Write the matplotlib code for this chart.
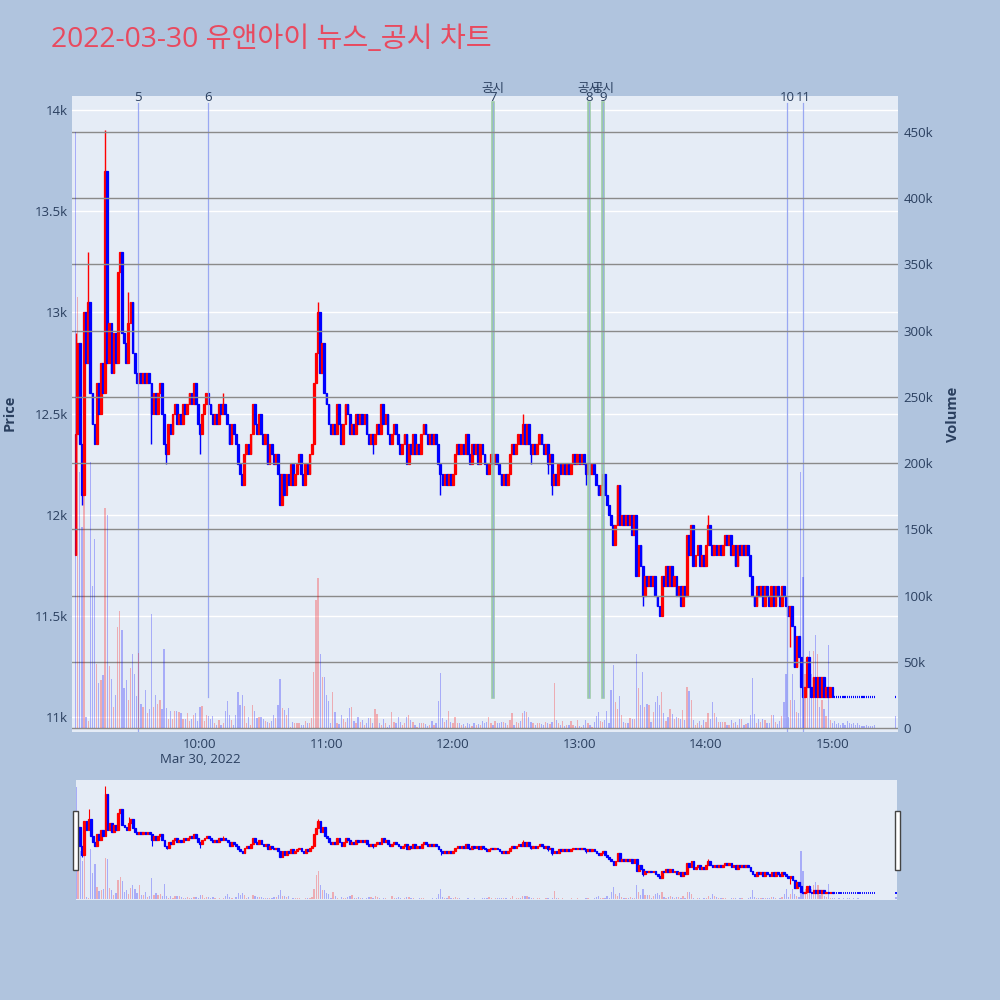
import matplotlib
matplotlib.use("Agg")
import matplotlib.pyplot as plt
import matplotlib.transforms as mtransforms
from matplotlib.patches import Rectangle
import numpy as np

plt.rcParams['font.family'] = ['Open Sans', 'Noto Sans CJK KR', 'DejaVu Sans']

title = "2022-03-30 유앤아이 뉴스_공시 차트"

# -------------------------
# data (1-minute candles)
# -------------------------
first_open = 11800
closes = [
    12400, 12850, 12350, 12100, 13000, 12750, 13050, 12600, 12450, 12350,
    12650, 12500, 12750, 12600, 13700, 12750, 12950, 12700, 12900, 12750,
    13200, 13300, 12900, 12850, 12750, 12950, 13050, 12800, 12700, 12650,
    12700, 12650, 12700, 12650, 12700, 12650, 12500, 12600, 12500, 12600,
    12650, 12500, 12350, 12300, 12450, 12400, 12500, 12550, 12450, 12500,
    12450, 12550, 12500, 12550, 12600, 12550, 12650, 12550, 12450, 12400,
    12500, 12550, 12600, 12550, 12500, 12450, 12500, 12450, 12550, 12500,
    12550, 12500, 12450, 12350, 12450, 12400, 12350, 12250, 12200, 12150,
    12300, 12350, 12300, 12400, 12550, 12450, 12400, 12500, 12400, 12350,
    12400, 12250, 12350, 12300, 12250, 12300, 12200, 12050, 12200, 12100,
    12200, 12150, 12250, 12150, 12200, 12250, 12300, 12200, 12150, 12250,
    12200, 12300, 12350, 12650, 12800, 13000, 12700, 12850, 12600, 12550,
    12450, 12400, 12450, 12400, 12550, 12450, 12350, 12450, 12550, 12500,
    12400, 12450, 12400, 12500, 12450, 12500, 12450, 12500, 12400, 12350,
    12400, 12350, 12400, 12450, 12400, 12550, 12450, 12500, 12400, 12350,
    12400, 12450, 12400, 12350, 12300, 12350, 12400, 12250, 12350, 12300,
    12400, 12300, 12350, 12300, 12400, 12450, 12400, 12350, 12400, 12350,
    12400, 12350, 12250, 12200, 12150, 12200, 12150, 12200, 12150, 12200,
    12300, 12350, 12300, 12350, 12300, 12400, 12300, 12250, 12350, 12300,
    12350, 12250, 12350, 12300, 12250, 12200, 12250, 12300, 12250, 12300,
    12250, 12200, 12150, 12200, 12150, 12200, 12300, 12350, 12300, 12350,
    12400, 12350, 12450, 12350, 12450, 12350, 12300, 12350, 12300, 12350,
    12400, 12350, 12300, 12350, 12250, 12300, 12150, 12200, 12150, 12250,
    12200, 12250, 12200, 12250, 12200, 12250, 12300, 12250, 12300, 12250,
    12300, 12250, 12200, 12250, 12200, 12250, 12200, 12150, 12100, 12150,
    12200, 12100, 12050, 12000, 11950, 11850, 11950, 12150, 11950, 12000,
    11950, 12000, 11950, 12000, 11900, 12000, 11700, 11850, 11750, 11600,
    11700, 11650, 11700, 11650, 11700, 11600, 11550, 11500, 11700, 11650,
    11750, 11650, 11750, 11650, 11700, 11600, 11650, 11550, 11650, 11600,
    11900, 11800, 11950, 11750, 11800, 11850, 11750, 11800, 11750, 11850,
    11950, 11850, 11800, 11850, 11800, 11850, 11800, 11850, 11900, 11850,
    11900, 11800, 11850, 11750, 11850, 11800, 11850, 11800, 11850, 11800,
    11700, 11600, 11550, 11650, 11600, 11650, 11550, 11650, 11600, 11550,
    11650, 11550, 11650, 11600, 11550, 11650, 11600, 11550, 11500, 11550,
    11450, 11250, 11400, 11300, 11150, 11100, 11150, 11300, 11150, 11100,
    11200, 11100, 11200, 11100, 11200, 11100, 11150, 11100, 11150, 11100,
    11100, 11100, 11100, 11100, 11100, 11100, 11100, 11100, 11100, 11100,
    11100, 11100, 11100, 11100, 11100, 11100, 11100, 11100, 11100, 11100,
    11100,
]
volumes_k = [
    450, 325, 193, 152, 180, 8, 5, 201, 107, 143,
    48, 34, 36, 40, 166, 161, 47, 37, 16, 25,
    76, 88, 74, 30, 36, 21, 45, 56, 41, 24,
    57, 18, 16, 29, 11, 14, 86, 16, 25, 18,
    21, 14, 60, 15, 7, 13, 7, 13, 13, 12,
    11, 7, 7, 11, 5, 7, 10, 11, 5, 16,
    17, 5, 10, 9, 7, 9, 3.5, 2.2, 6, 2.2,
    3.5, 13, 20.6, 9.5, 6, 2.2, 9.8, 27, 17.3, 25,
    16.6, 3.5, 8.5, 2.2, 17.3, 12.8, 7.3, 8, 8, 6.5,
    5.2, 4.8, 3.5, 5.5, 9.8, 7.3, 17.3, 37, 14.8, 13.5,
    9.8, 14.8, 1, 4.2, 3.5, 4, 4, 2.2, 2.2, 5.5,
    3.5, 3.5, 7.3, 42.5, 97, 113, 56, 38.7, 38.7, 25,
    20.6, 3.5, 27.4, 12.3, 4, 3, 9.8, 6.5, 4.8, 7.3,
    14.8, 16, 5.5, 4, 8.5, 4.8, 6, 2.2, 3.5, 7.3,
    7.3, 3.5, 14, 10.5, 4, 2.2, 6.5, 4, 0.5, 2.2,
    12.3, 4.8, 3.5, 8.5, 4.8, 2.2, 3.5, 8.5, 9.8, 6,
    4.8, 2.2, 1, 3.5, 3.5, 3.5, 3, 1.5, 2.2, 5.5,
    2.2, 3.5, 20.6, 41.2, 7.3, 4.8, 6, 13, 4.8, 3.5,
    8.5, 3.5, 3.5, 2.2, 3, 1.5, 4, 3, 1.5, 4,
    2.2, 3, 2.2, 5.5, 3.5, 4.8, 8, 4, 2.2, 5.5,
    3.5, 4, 4.8, 4.8, 4, 2.2, 6, 11.5, 2.2, 4.8,
    4, 5.5, 11.5, 13, 12.3, 8.5, 4.8, 4, 2.2, 3.5,
    4, 3, 2.2, 4.8, 4, 3, 4.8, 34, 6, 4,
    2.2, 5.5, 1.5, 2.2, 2.2, 5.5, 2.2, 1.5, 6, 1.5,
    0.5, 2.2, 6, 4, 2.2, 1, 4.8, 9, 12.3, 5.2,
    4.8, 6, 12.8, 3.5, 29, 47.5, 19.8, 14, 24, 9.8,
    4.8, 3.5, 4, 7.3, 6.5, 6.5, 55.8, 30, 17.3, 42,
    15.6, 18, 17.3, 4.8, 12.3, 19.8, 24, 17.3, 27.4, 11,
    5.2, 8, 14.3, 10.5, 6.5, 8, 7.3, 6.5, 13.5, 6,
    30.6, 28, 21, 6, 2.2, 3.5, 5.5, 2.2, 6, 4.8,
    11.5, 6.5, 19.8, 11.5, 8, 4.8, 4.8, 4.8, 4.8, 2.2,
    2.2, 6, 3.5, 4.8, 2.2, 6.5, 6.5, 2.2, 3, 4,
    10, 38, 10.5, 3.5, 6.5, 4.8, 6.5, 6, 3.5, 3.5,
    9.8, 9.8, 4.5, 3, 5, 9, 20, 41, 8, 21,
    41, 21, 12, 11, 193, 114, 41, 54, 58, 41,
    58, 70, 56, 16, 21, 14, 9, 63, 6, 4,
    5, 3, 4, 2, 3.5, 2, 5, 3.5, 3, 4,
    2, 4, 2, 1.5, 1.5, 2, 1.5, 1.5, 1.5, 2,
    9,
]
# minutes after 09:00 (candle stamped by its closing minute)
times = list(range(1, 381)) + [390]

wick_high = {0: 12900, 6: 13300, 14: 13900, 25: 13100, 70: 12600,
             115: 13050, 212: 12500, 300: 12000}
wick_low = {3: 12050, 36: 12350, 43: 12250, 59: 12300, 141: 12300,
            173: 12100, 216: 12250, 224: 12200, 226: 12100, 242: 12150,
            269: 11550, 277: 11500, 339: 11350}

news_labels = ['5', '6', '7', '8', '9', '10', '11']
news_times = ['09:30:36', '10:03:48', '12:19:00', '13:04:30',
              '13:11:12', '14:38:24', '14:46:00']
news_tags = ['', '', '공시', '공시', '공시', '', '']

price_ticks = [11000, 11500, 12000, 12500, 13000, 13500, 14000]
price_tick_labels = ['11k', '11.5k', '12k', '12.5k', '13k', '13.5k', '14k']
vol_ticks = [0, 50, 100, 150, 200, 250, 300, 350, 400, 450]
vol_tick_labels = ['0', '50k', '100k', '150k', '200k', '250k',
                   '300k', '350k', '400k', '450k']
time_tick_labels = ['10:00\nMar 30, 2022', '11:00', '12:00',
                    '13:00', '14:00', '15:00']

BG = '#b0c4de'
PLOT_BG = '#e5ecf6'
UP = '#ff0000'
DOWN = '#0000ff'
TXT = '#2a3f5f'


def to_min(s):
    h, m, sec = [int(v) for v in s.split(':')]
    return h * 60 + m + sec / 60 - 540


t = np.array(times, dtype=float)
c = np.array(closes, dtype=float)
o = np.concatenate([[first_open], c[:-1]])
hi = np.maximum(o, c)
lo = np.minimum(o, c)
for i, v in wick_high.items():
    hi[i] = max(hi[i], v)
for i, v in wick_low.items():
    lo[i] = min(lo[i], v)
col = np.where(c > o, UP, DOWN)
vcol = np.where(np.concatenate([[False], c[1:] > c[:-1]]), UP, DOWN)
vol = np.array(volumes_k, dtype=float)
flat = c == o


def draw_candles(axis, body_lw, wick_lw, dash_lw):
    moving = ~flat
    axis.vlines(t[moving], lo[moving], hi[moving], colors=col[moving],
                linewidth=wick_lw, zorder=2)
    axis.bar(t[moving], (c - o)[moving], bottom=o[moving], width=0.85,
             color=col[moving], edgecolor=col[moving], linewidth=body_lw,
             zorder=3)
    # unchanged minutes show as short dashes
    axis.hlines(c[flat], t[flat] - 0.3, t[flat] + 0.3, colors=DOWN,
                linewidth=dash_lw, zorder=3)


fig = plt.figure(figsize=(10, 10), dpi=100, facecolor=BG)

# -------------------------
# main chart
# -------------------------
ax = fig.add_axes([0.072, 0.268, 0.826, 0.636])
ax.set_facecolor(PLOT_BG)
draw_candles(ax, 0.9, 1.0, 1.6)
ax.set_xlim(-0.7, 391.1)
ax.set_ylim(10928, 14069)
ax.set_yticks(price_ticks, price_tick_labels)
ax.set_xticks([60, 120, 180, 240, 300, 360], time_tick_labels)
ax.grid(axis='y', color='white', linewidth=1)
ax.set_axisbelow(True)
ax.tick_params(length=0, labelsize=9.5, colors=TXT)
ax.tick_params(axis='y', pad=3)
ax.tick_params(axis='x', pad=4)
for s in ax.spines.values():
    s.set_visible(False)

ax_v = ax.twinx()
ax_v.bar(t, vol, width=0.6, color=vcol, alpha=0.27, zorder=2)
ax_v.set_ylim(-3, 477)
ax_v.set_yticks(vol_ticks, vol_tick_labels)
ax_v.grid(axis='y', color='#8a8a8a', linewidth=1)
ax_v.tick_params(length=0, labelsize=9.5, colors=TXT, pad=4)
ax_v.patch.set_visible(False)
for s in ax_v.spines.values():
    s.set_visible(False)

# news / disclosure lines
trans = mtransforms.blended_transform_factory(ax.transData, ax.transAxes)
to_bottom = {'5', '10', '11'}
for lab, tm, tag in zip(news_labels, news_times, news_tags):
    x = to_min(tm)
    y0 = 10928 if lab in to_bottom else 11100
    if tag:
        ax.plot([x, x], [y0, 14035], color='#8fc49a', linewidth=2.6,
                alpha=0.85, zorder=4)
        ax.plot([x, x], [y0, 14035], color='#9aa8f0', linewidth=0.7,
                alpha=0.8, zorder=4)
        ax.text(x, 1.012, tag, transform=trans, ha='center', va='center',
                fontsize=9, color=TXT, clip_on=False)
    else:
        ax.plot([x, x], [y0, 14035], color='#8d9cf2', linewidth=0.9,
                alpha=0.85, zorder=4)
    ax.text(x, 0.998, lab, transform=trans, ha='center', va='center',
            fontsize=9.5, color=TXT, clip_on=False)

# -------------------------
# range slider
# -------------------------
ax_s = fig.add_axes([0.0755, 0.100, 0.821, 0.120])
ax_s.set_facecolor(PLOT_BG)
draw_candles(ax_s, 0.9, 0.8, 1.3)
ax_s.set_xlim(0.8, 390.3)
ax_s.set_ylim(10928, 14069)
ax_s.set_xticks([])
ax_s.set_yticks([])
for s in ax_s.spines.values():
    s.set_visible(False)
ax_s2 = ax_s.twinx()
ax_s2.bar(t, vol, width=0.6, color=vcol, alpha=0.27)
ax_s2.set_ylim(-3, 477)
ax_s2.set_yticks([])
ax_s2.patch.set_visible(False)
for s in ax_s2.spines.values():
    s.set_visible(False)

for hx in (0.0733, 0.8953):
    fig.patches.append(Rectangle((hx, 0.130), 0.0044, 0.0593,
                                 transform=fig.transFigure, facecolor='white',
                                 edgecolor='#444444', linewidth=1, zorder=10))

# -------------------------
# titles
# -------------------------
fig.text(0.051, 0.960, title, fontsize=20.3, color='#e84a5f',
         ha='left', va='center')
fig.text(0.010, 0.587, 'Price', rotation=90, ha='center', va='center',
         fontsize=10.5, fontweight='bold', color=TXT)
fig.text(0.953, 0.586, 'Volume', rotation=90, ha='center', va='center',
         fontsize=10.5, fontweight='bold', color=TXT)

fig.savefig('out.png', dpi=100, facecolor=BG)
